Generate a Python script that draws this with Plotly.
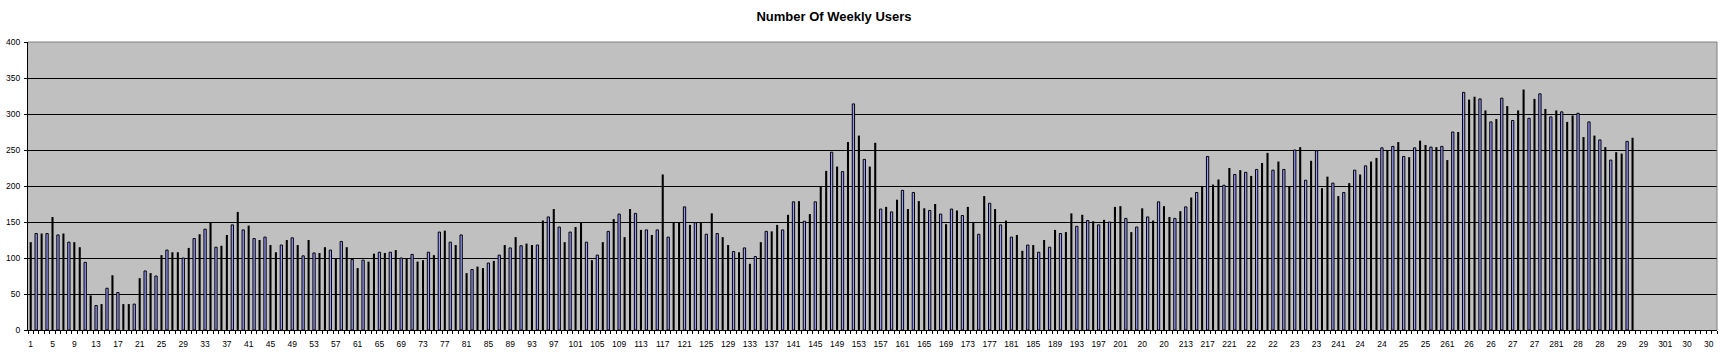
import plotly.graph_objects as go

TITLE = "Number Of Weekly Users"

WEEKS = list(range(1, 296))
USERS = [
    122, 134, 134, 134, 157, 132, 134, 122, 122, 115,
    94, 48, 34, 36, 58, 76, 52, 36, 36, 36,
    72, 82, 79, 75, 104, 111, 108, 108, 100, 114,
    127, 133, 140, 150, 115, 117, 132, 146, 164, 139,
    145, 127, 125, 129, 118, 108, 118, 125, 128, 118,
    103, 125, 107, 107, 115, 111, 100, 123, 115, 98,
    86, 97, 95, 106, 108, 107, 108, 111, 100, 100,
    105, 95, 97, 108, 104, 136, 138, 122, 118, 132,
    79, 84, 88, 86, 93, 96, 104, 118, 114, 129,
    117, 120, 118, 118, 152, 157, 168, 143, 122, 136,
    143, 149, 122, 97, 104, 122, 137, 154, 161, 129,
    168, 162, 139, 139, 132, 139, 216, 129, 149, 149,
    171, 146, 149, 149, 133, 162, 134, 129, 118, 109,
    108, 114, 92, 102, 122, 137, 137, 146, 139, 160,
    178, 179, 151, 161, 178, 200, 221, 247, 227, 220,
    261, 314, 270, 237, 227, 260, 168, 171, 164, 181,
    194, 168, 191, 179, 169, 166, 175, 161, 147, 168,
    166, 159, 171, 149, 133, 186, 176, 168, 146, 152,
    129, 132, 110, 118, 118, 108, 125, 115, 139, 134,
    136, 162, 144, 160, 152, 151, 146, 153, 150, 171,
    172, 155, 136, 143, 169, 157, 152, 178, 172, 157,
    155, 165, 171, 184, 191, 200, 241, 202, 209, 201,
    225, 216, 222, 219, 214, 223, 232, 246, 222, 234,
    223, 200, 250, 254, 208, 235, 249, 197, 213, 204,
    186, 191, 204, 222, 216, 228, 234, 239, 253, 249,
    255, 261, 241, 240, 253, 263, 257, 254, 254, 255,
    236, 275, 275, 330, 320, 324, 321, 305, 289, 293,
    322, 311, 291, 305, 334, 294, 321, 328, 307, 296,
    305, 303, 289, 298, 301, 268, 289, 270, 264, 254,
    236, 247, 245, 262, 267,
]

N_CATEGORIES = 310
TICK_VALUES = list(range(1, 310, 4))
TICK_LABELS = [
    "1", "5", "9", "13", "17", "21", "25", "29", "33", "37",
    "41", "45", "49", "53", "57", "61", "65", "69", "73", "77",
    "81", "85", "89", "93", "97", "101", "105", "109", "113", "117",
    "121", "125", "129", "133", "137", "141", "145", "149", "153", "157",
    "161", "165", "169", "173", "177", "181", "185", "189", "193", "197",
    "201", "20", "20", "213", "217", "221", "22", "22", "23", "23",
    "241", "24", "24", "25", "25", "261", "26", "26", "27", "27",
    "281", "28", "28", "29", "29", "301", "30", "30",
]

# bars that show their blue fill (the others render as thin solid black bars)
BLUE_BARS = {
    2, 4, 6, 8, 11, 13, 15, 17, 20, 22, 24, 26, 29, 31, 33, 35, 38, 40, 42, 44,
    47, 49, 51, 53, 56, 58, 60, 62, 65, 67, 69, 71, 74, 76, 78, 80, 82, 85, 87,
    89, 91, 94, 96, 98, 100, 103, 105, 107, 109, 112, 114, 116, 118, 121, 123,
    125, 127, 130, 132, 134, 136, 139, 141, 143, 145, 148, 150, 152, 154, 157,
    159, 161, 163, 166, 168, 170, 172, 175, 177, 179, 181, 184, 186, 188, 190,
    193, 195, 197, 199, 202, 204, 206, 208, 211, 213, 215, 217, 220, 222, 224,
    226, 229, 231, 233, 235, 237, 240, 242, 244, 246, 249, 251, 253, 255, 258,
    260, 262, 264, 267, 269, 271, 273, 276, 278, 280, 282, 285, 287, 289, 291,
    294,
}

FONT = "Liberation Sans, Arial, sans-serif"
BLUE = "#9999FF"

colors = [BLUE if w in BLUE_BARS else "black" for w in WEEKS]
widths = [0.42 if w in BLUE_BARS else 0.38 for w in WEEKS]
line_w = [1 if w in BLUE_BARS else 0 for w in WEEKS]

fig = go.Figure(
    go.Bar(
        x=WEEKS,
        y=USERS,
        width=widths,
        marker=dict(color=colors, line=dict(color="black", width=line_w)),
        showlegend=False,
        hoverinfo="skip",
    )
)

fig.update_layout(
    width=1736,
    height=363,
    margin=dict(l=28, r=19, t=42, b=33, autoexpand=False),
    paper_bgcolor="white",
    plot_bgcolor="#C0C0C0",
    title=dict(
        text="<b>" + TITLE + "</b>",
        x=834 / 1736,
        xanchor="center",
        xref="container",
        y=1 - 16.5 / 363,
        yanchor="middle",
        yref="container",
        font=dict(family=FONT, size=13, color="black"),
    ),
    xaxis=dict(
        range=[0.5, N_CATEGORIES + 0.5],
        tickmode="array",
        tickvals=TICK_VALUES,
        ticktext=TICK_LABELS,
        tickangle=0,
        ticks="",
        ticklabelstandoff=6,
        showgrid=False,
        zeroline=False,
        showline=True,
        linecolor="black",
        linewidth=1,
        automargin=False,
        tickfont=dict(family=FONT, size=8.5, color="black"),
        minor=dict(
            tickmode="linear",
            tick0=0.5,
            dtick=1,
            ticks="outside",
            ticklen=3,
            tickcolor="black",
            tickwidth=1,
            showgrid=False,
        ),
    ),
    yaxis=dict(
        range=[0, 400],
        tick0=0,
        dtick=50,
        ticks="outside",
        ticklen=3,
        tickcolor="black",
        showgrid=True,
        gridcolor="black",
        gridwidth=1,
        zeroline=False,
        showline=True,
        linecolor="black",
        linewidth=1,
        automargin=False,
        ticklabelstandoff=2,
        tickfont=dict(family=FONT, size=8.5, color="black"),
    ),
    shapes=[
        dict(type="line", xref="paper", yref="paper", x0=0, x1=1, y0=1, y1=1,
             line=dict(color="#808080", width=1), layer="above"),
        dict(type="line", xref="paper", yref="paper", x0=1, x1=1, y0=0, y1=1,
             line=dict(color="#808080", width=1), layer="above"),
    ],
)

fig.write_html(
    "out.html",
    config={"displayModeBar": False},
    post_script="document.body.style.margin='0';document.body.style.padding='0';",
)
